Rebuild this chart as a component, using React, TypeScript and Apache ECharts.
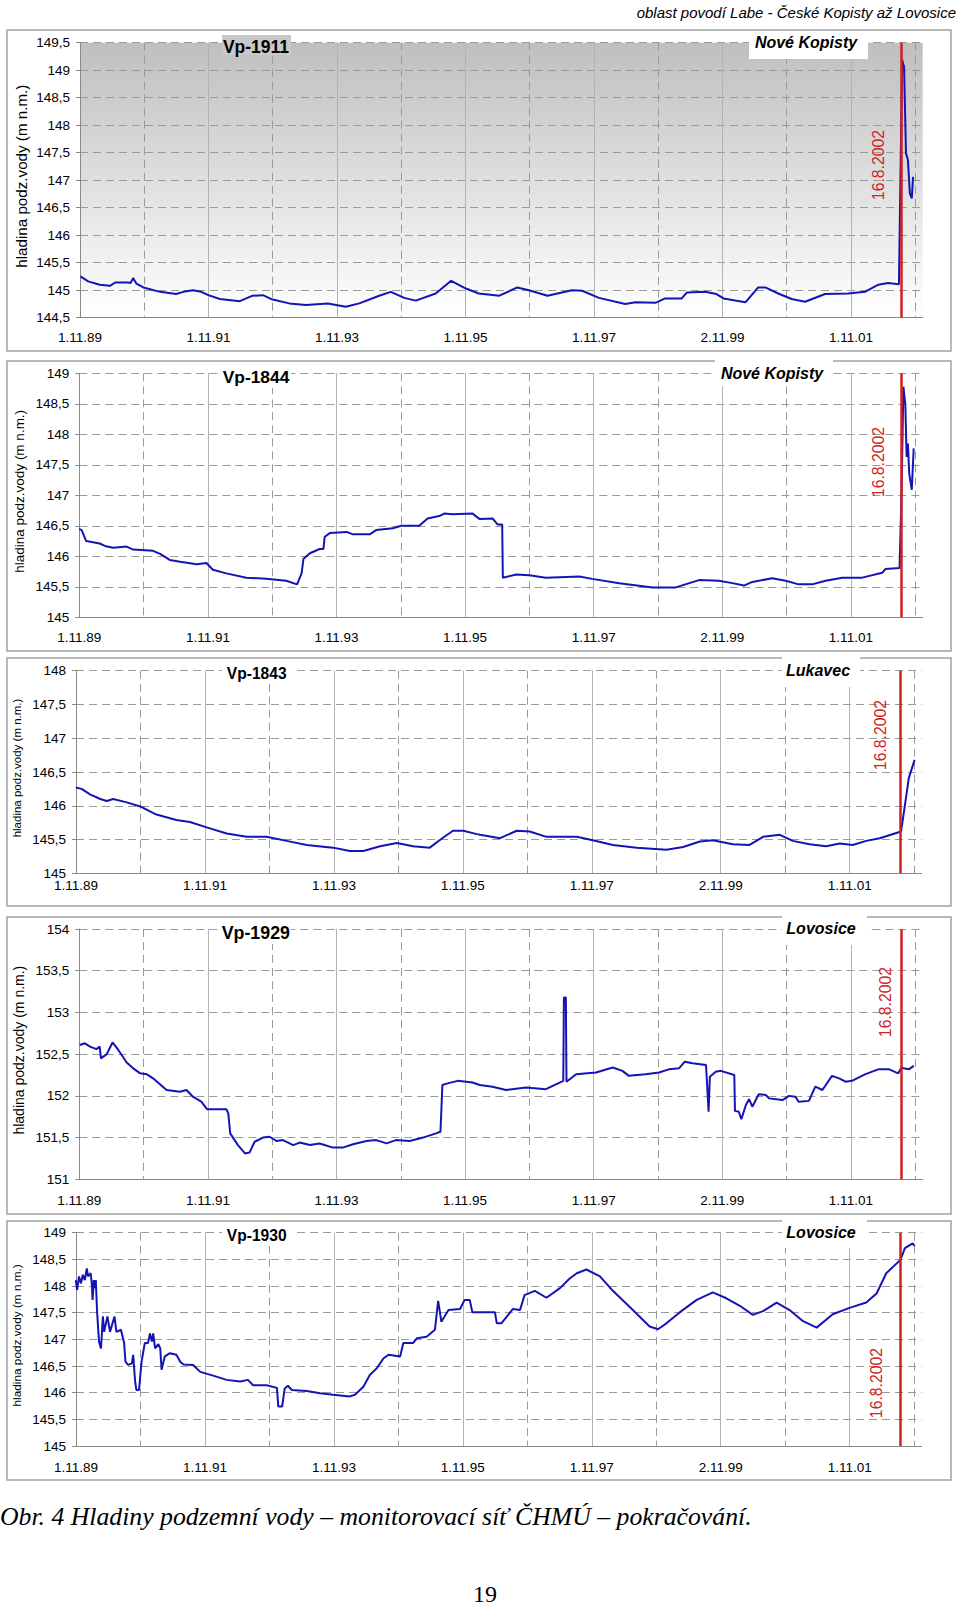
import React, { useEffect, useRef } from 'react';
import * as echarts from 'echarts';

// ---- time frame (decimal years) ----
const START = 1989.833; // 1.11.1989
const END = 2002.95;
const FLOOD = 2002.622; // 16.8.2002
const FLOOD_LABEL = '16.8.2002';
const DATE_LABELS = ['1.11.89', '1.11.91', '1.11.93', '1.11.95', '1.11.97', '2.11.99', '1.11.01'];
const Y_NAME = 'hladina podz.vody (m n.m.)';
const HEADER = 'oblast povodí Labe - České Kopisty až Lovosice';
const CAPTION = 'Obr. 4 Hladiny podzemní vody – monitorovací síť ČHMÚ – pokračování.';
const PAGE_NO = '19';

const WELLS = ['Vp-1911', 'Vp-1844', 'Vp-1843', 'Vp-1929', 'Vp-1930'];
const PLACES = ['Nové Kopisty', 'Nové Kopisty', 'Lukavec', 'Lovosice', 'Lovosice'];
const Y_MIN = [144.5, 145, 145, 151, 145];
const Y_MAX = [149.5, 149, 148, 154, 149];

// ---- series: [decimal year, level m n.m.] ----
const vp1911: [number, number][] = [
  [1989.84, 145.25], [1989.96, 145.16], [1990.14, 145.1], [1990.3, 145.08], [1990.38, 145.14], [1990.58, 145.14],
  [1990.62, 145.13], [1990.66, 145.22], [1990.71, 145.12], [1990.82, 145.05], [1991.08, 144.97], [1991.33, 144.93],
  [1991.44, 144.97], [1991.59, 145.0], [1991.72, 144.97], [1991.83, 144.91], [1992.01, 144.84], [1992.32, 144.8],
  [1992.52, 144.9], [1992.68, 144.91], [1992.83, 144.83], [1993.09, 144.76], [1993.35, 144.73], [1993.69, 144.76],
  [1993.97, 144.7], [1994.18, 144.76], [1994.49, 144.9], [1994.67, 144.97], [1994.88, 144.86], [1995.06, 144.81],
  [1995.37, 144.94], [1995.61, 145.17], [1995.84, 145.03], [1996.04, 144.94], [1996.36, 144.9], [1996.64, 145.05],
  [1996.82, 145.0], [1997.11, 144.9], [1997.49, 145.0], [1997.65, 144.99], [1997.91, 144.86], [1998.32, 144.75],
  [1998.48, 144.78], [1998.79, 144.77], [1998.94, 144.85], [1999.2, 144.85], [1999.28, 144.96], [1999.56, 144.97],
  [1999.74, 144.93], [1999.85, 144.85], [2000.19, 144.78], [2000.39, 145.05], [2000.5, 145.05], [2000.7, 144.94],
  [2000.91, 144.84], [2001.12, 144.79], [2001.43, 144.93], [2001.79, 144.94], [2002.05, 144.97], [2002.26, 145.1],
  [2002.41, 145.13], [2002.58, 145.11], [2002.63, 149.19], [2002.66, 149.06], [2002.69, 147.49], [2002.72, 147.37],
  [2002.75, 146.76], [2002.78, 146.67], [2002.8, 147.06],
];

const vp1844: [number, number][] = [
  [1989.83, 146.45], [1989.87, 146.43], [1989.94, 146.25], [1990.15, 146.21], [1990.23, 146.17], [1990.36, 146.14],
  [1990.57, 146.16], [1990.67, 146.11], [1990.98, 146.09], [1991.09, 146.04], [1991.24, 145.94], [1991.4, 145.91],
  [1991.66, 145.87], [1991.81, 145.89], [1991.91, 145.78], [1992.12, 145.72], [1992.43, 145.65], [1992.74, 145.63],
  [1993.05, 145.6], [1993.22, 145.54], [1993.29, 145.72], [1993.32, 145.96], [1993.42, 146.05], [1993.57, 146.12],
  [1993.63, 146.12], [1993.65, 146.32], [1993.73, 146.38], [1993.99, 146.4], [1994.09, 146.36], [1994.35, 146.36],
  [1994.45, 146.43], [1994.71, 146.46], [1994.84, 146.5], [1995.12, 146.5], [1995.25, 146.62], [1995.43, 146.66],
  [1995.51, 146.7], [1995.64, 146.69], [1995.95, 146.7], [1996.06, 146.61], [1996.26, 146.62], [1996.34, 146.52],
  [1996.41, 146.52], [1996.42, 145.65], [1996.63, 145.7], [1996.83, 145.69], [1997.09, 145.65], [1997.61, 145.67],
  [1997.81, 145.63], [1998.23, 145.56], [1998.75, 145.49], [1999.11, 145.49], [1999.47, 145.61], [1999.78, 145.6],
  [1999.99, 145.56], [2000.17, 145.52], [2000.3, 145.58], [2000.61, 145.64], [2000.82, 145.6], [2001.02, 145.54],
  [2001.23, 145.54], [2001.44, 145.6], [2001.7, 145.65], [2002.01, 145.65], [2002.32, 145.73], [2002.37, 145.79],
  [2002.59, 145.81], [2002.62, 147.0], [2002.65, 148.78], [2002.68, 148.48], [2002.7, 147.63], [2002.72, 147.85],
  [2002.74, 147.36], [2002.78, 147.09], [2002.81, 147.77],
];

const vp1843: [number, number][] = [
  [1989.83, 146.27], [1989.92, 146.25], [1990.05, 146.17], [1990.21, 146.1], [1990.31, 146.07], [1990.41, 146.1],
  [1990.62, 146.05], [1990.83, 145.99], [1991.08, 145.87], [1991.39, 145.79], [1991.6, 145.76], [1991.86, 145.68],
  [1992.17, 145.59], [1992.48, 145.54], [1992.79, 145.54], [1993.1, 145.48], [1993.41, 145.42], [1993.82, 145.38],
  [1994.08, 145.33], [1994.29, 145.33], [1994.55, 145.4], [1994.81, 145.45], [1995.06, 145.4], [1995.32, 145.38],
  [1995.53, 145.53], [1995.68, 145.63], [1995.84, 145.63], [1996.05, 145.58], [1996.1, 145.57], [1996.41, 145.52],
  [1996.67, 145.63], [1996.87, 145.62], [1997.13, 145.54], [1997.6, 145.54], [1997.85, 145.49], [1998.16, 145.42],
  [1998.53, 145.38], [1998.99, 145.35], [1999.25, 145.39], [1999.51, 145.47], [1999.71, 145.49], [2000.02, 145.43],
  [2000.28, 145.42], [2000.49, 145.54], [2000.75, 145.57], [2000.95, 145.48], [2001.21, 145.43], [2001.47, 145.4],
  [2001.68, 145.44], [2001.88, 145.42], [2002.09, 145.48], [2002.3, 145.52], [2002.63, 145.62], [2002.69, 146.01],
  [2002.75, 146.41], [2002.84, 146.68],
];

const vp1929: [number, number][] = [
  [1989.84, 152.61], [1989.92, 152.63], [1990.0, 152.59], [1990.1, 152.56], [1990.15, 152.59], [1990.17, 152.45],
  [1990.26, 152.5], [1990.35, 152.64], [1990.44, 152.55], [1990.57, 152.4], [1990.67, 152.33], [1990.78, 152.27],
  [1990.88, 152.26], [1990.98, 152.21], [1991.19, 152.07], [1991.4, 152.05], [1991.5, 152.07], [1991.6, 151.99],
  [1991.73, 151.93], [1991.82, 151.84], [1992.12, 151.84], [1992.15, 151.79], [1992.18, 151.55], [1992.3, 151.41],
  [1992.41, 151.31], [1992.48, 151.32], [1992.56, 151.45], [1992.69, 151.5], [1992.79, 151.51], [1992.9, 151.46],
  [1993.0, 151.47], [1993.16, 151.41], [1993.26, 151.44], [1993.42, 151.41], [1993.57, 151.43], [1993.78, 151.38],
  [1993.93, 151.38], [1994.09, 151.42], [1994.3, 151.46], [1994.45, 151.47], [1994.61, 151.43], [1994.76, 151.47],
  [1994.97, 151.46], [1995.18, 151.5], [1995.38, 151.55], [1995.45, 151.57], [1995.48, 152.13], [1995.56, 152.15],
  [1995.72, 152.18], [1995.95, 152.16], [1996.06, 152.13], [1996.26, 152.11], [1996.47, 152.07], [1996.78, 152.1],
  [1997.09, 152.08], [1997.36, 152.18], [1997.37, 153.18], [1997.4, 153.18], [1997.41, 152.17], [1997.56, 152.26],
  [1997.87, 152.28], [1998.13, 152.34], [1998.28, 152.3], [1998.38, 152.24], [1998.64, 152.26], [1998.85, 152.28],
  [1999.01, 152.32], [1999.16, 152.33], [1999.25, 152.41], [1999.37, 152.39], [1999.58, 152.37], [1999.62, 151.81],
  [1999.64, 152.23], [1999.73, 152.29], [1999.81, 152.3], [2000.02, 152.25], [2000.03, 151.82], [2000.09, 151.81],
  [2000.13, 151.72], [2000.2, 151.89], [2000.25, 151.96], [2000.3, 151.87], [2000.4, 152.02], [2000.51, 152.01],
  [2000.56, 151.97], [2000.77, 151.95], [2000.87, 152.0], [2000.97, 151.99], [2001.02, 151.93], [2001.18, 151.94],
  [2001.28, 152.11], [2001.39, 152.07], [2001.54, 152.24], [2001.65, 152.21], [2001.75, 152.17], [2001.85, 152.18],
  [2002.06, 152.26], [2002.27, 152.32], [2002.42, 152.32], [2002.57, 152.27], [2002.62, 152.34], [2002.65, 152.33],
  [2002.74, 152.32], [2002.81, 152.36],
];

const vp1930: [number, number][] = [
  [1989.83, 148.11], [1989.85, 147.93], [1989.88, 148.18], [1989.91, 148.05], [1989.94, 148.21], [1989.97, 148.11],
  [1990.0, 148.33], [1990.02, 148.18], [1990.06, 148.24], [1990.08, 148.02], [1990.09, 147.74], [1990.11, 148.11],
  [1990.13, 147.96], [1990.14, 148.11], [1990.16, 147.52], [1990.19, 146.96], [1990.22, 146.83], [1990.25, 147.43],
  [1990.27, 147.14], [1990.32, 147.43], [1990.36, 147.14], [1990.43, 147.43], [1990.46, 147.14], [1990.53, 147.18],
  [1990.58, 146.93], [1990.6, 146.58], [1990.64, 146.52], [1990.7, 146.55], [1990.72, 146.71], [1990.75, 146.21],
  [1990.77, 146.05], [1990.81, 146.05], [1990.85, 146.58], [1990.9, 146.93], [1990.95, 146.93], [1990.98, 147.11],
  [1991.01, 146.96], [1991.03, 147.11], [1991.06, 146.83], [1991.11, 146.91], [1991.14, 146.83], [1991.16, 146.43],
  [1991.19, 146.58], [1991.21, 146.68], [1991.29, 146.74], [1991.39, 146.71], [1991.45, 146.58], [1991.5, 146.53],
  [1991.65, 146.52], [1991.76, 146.39], [1991.96, 146.32], [1992.17, 146.24], [1992.38, 146.21], [1992.5, 146.24],
  [1992.58, 146.14], [1992.79, 146.14], [1992.95, 146.09], [1992.97, 145.74], [1993.03, 145.74], [1993.07, 146.08],
  [1993.12, 146.13], [1993.18, 146.05], [1993.41, 146.03], [1993.62, 145.99], [1993.82, 145.96], [1994.08, 145.93],
  [1994.16, 145.96], [1994.29, 146.11], [1994.39, 146.33], [1994.5, 146.46], [1994.6, 146.64], [1994.68, 146.71],
  [1994.86, 146.68], [1994.91, 146.93], [1995.06, 146.93], [1995.12, 147.02], [1995.27, 147.05], [1995.4, 147.18],
  [1995.45, 147.72], [1995.5, 147.33], [1995.61, 147.55], [1995.79, 147.57], [1995.86, 147.74], [1995.94, 147.74],
  [1995.98, 147.51], [1996.1, 147.51], [1996.33, 147.51], [1996.36, 147.3], [1996.43, 147.3], [1996.61, 147.57],
  [1996.72, 147.55], [1996.79, 147.83], [1996.95, 147.91], [1997.13, 147.78], [1997.34, 147.96], [1997.49, 148.14],
  [1997.6, 148.24], [1997.75, 148.31], [1997.96, 148.18], [1998.16, 147.91], [1998.47, 147.55], [1998.73, 147.24],
  [1998.86, 147.19], [1998.99, 147.3], [1999.2, 147.51], [1999.46, 147.74], [1999.71, 147.88], [1999.92, 147.77],
  [2000.13, 147.63], [2000.33, 147.46], [2000.49, 147.53], [2000.7, 147.69], [2000.9, 147.55], [2001.11, 147.34],
  [2001.32, 147.22], [2001.57, 147.47], [2001.83, 147.59], [2002.09, 147.69], [2002.25, 147.86], [2002.4, 148.24],
  [2002.62, 148.49], [2002.69, 148.71], [2002.81, 148.8], [2002.84, 148.75],
];

const SERIES = [vp1911, vp1844, vp1843, vp1929, vp1930];

// ---- layout (pixels) ----
const LAYOUT = [
  { frame: [7, 30, 944, 321], grid: [80, 42.7, 842.7, 275], xMargin: 13, yNameX: 21.7, yNameSize: 15.2, titleSize: 17.5,
    title: [256, 46.7], titleBox: [222, 35, 69, 20], titleFill: '#c9c9c9', place: [806, 42.7], placeBox: [749, 32, 119, 27], flood: [878, 165] },
  { frame: [7, 361, 944, 290], grid: [79.3, 373.3, 843.4, 244], xMargin: 13.5, yNameX: 19.3, yNameSize: 13.5, titleSize: 17.4,
    title: [256, 377.3], titleBox: [221, 366, 70, 22], titleFill: '#ffffff', place: [772, 373.3], placeBox: [715, 357, 118, 29], flood: [878, 462] },
  { frame: [7, 658, 944, 248], grid: [76, 670.7, 845.7, 202.6], xMargin: 5, yNameX: 16.7, yNameSize: 11.5, titleSize: 15.6,
    title: [256.7, 673.3], titleBox: [222, 662, 70, 22], titleFill: '#ffffff', place: [818, 670], placeBox: [782, 654, 78, 33], flood: [880, 735] },
  { frame: [7, 917, 944, 297], grid: [79.3, 929, 843.4, 250.3], xMargin: 14, yNameX: 19.3, yNameSize: 14, titleSize: 17.8,
    title: [255.8, 933.3], titleBox: [221, 922, 70, 22], titleFill: '#ffffff', place: [821, 928.3], placeBox: [782, 913, 85, 32], flood: [885, 1002] },
  { frame: [7, 1221, 944, 259], grid: [76, 1232.7, 845.7, 213.3], xMargin: 14, yNameX: 17.3, yNameSize: 11.8, titleSize: 15.6,
    title: [256.7, 1235], titleBox: [222, 1224, 70, 22], titleFill: '#ffffff', place: [821, 1232.3], placeBox: [782, 1217, 85, 31], flood: [876.7, 1383] },
];

const SANS = '"Liberation Sans", Arial, sans-serif';
const SERIF = '"Liberation Serif", "Times New Roman", serif';

function txt(x: number, y: number, text: string, o: any, z = 51, rotation = 0) {
  return {
    type: 'text', x, y, rotation, z,
    style: {
      text, fill: o.fill || '#000', fontSize: o.fontSize, fontFamily: o.fontFamily || SANS,
      fontWeight: o.fontWeight || 'normal', fontStyle: o.fontStyle || 'normal',
      align: o.align || 'center', textAlign: o.align || 'center',
      verticalAlign: 'middle', textVerticalAlign: 'middle',
    },
    ...(o.scaleX ? { scaleX: o.scaleX } : {}),
  };
}

export default function App() {
  const ref = useRef<HTMLDivElement>(null);
  useEffect(() => {
    document.body.style.margin = '0';
    const chart = echarts.init(ref.current!, null, { renderer: 'svg' });
    const T = (y: number) => +(y - START).toFixed(4);
    const xMax = +(END - START).toFixed(4);
    const grids: any[] = [];
    const xAxes: any[] = [];
    const yAxes: any[] = [];
    const series: any[] = [];
    const graphics: any[] = [];
    const dash = { color: '#9a9a9a', width: 1, type: [8, 5] };

    SERIES.forEach((data, i) => {
      const L = LAYOUT[i];
      grids.push({
        left: L.grid[0], top: L.grid[1], width: L.grid[2], height: L.grid[3],
        containLabel: false, outerBoundsMode: 'none',
        show: i === 0, borderWidth: 0,
        backgroundColor: i === 0
          ? new echarts.graphic.LinearGradient(0, 0, 0, 1, [
              { offset: 0, color: '#bfbfbf' },
              { offset: 1, color: '#ffffff' },
            ])
          : 'transparent',
      });
      xAxes.push({
        type: 'value', gridIndex: i, min: 0, max: xMax, interval: 1,
        axisLine: { show: true, lineStyle: { color: '#8a8a8a', width: 1 } },
        axisTick: { show: false },
        axisLabel: {
          margin: L.xMargin, fontSize: 13.5, color: '#000', fontFamily: SANS,
          formatter: (v: number) => {
            const k = Math.round(v);
            if (Math.abs(v - k) < 1e-6 && k % 2 === 0 && k / 2 < DATE_LABELS.length) return DATE_LABELS[k / 2];
            return '';
          },
        },
        splitLine: { show: true, showMaxLine: false, showMinLine: false, lineStyle: dash },
      });
      xAxes.push({
        type: 'value', gridIndex: i, min: 0, max: xMax, interval: 2,
        axisLine: { show: false }, axisTick: { show: false }, axisLabel: { show: false },
        splitLine: { show: true, showMaxLine: false, showMinLine: false, lineStyle: { color: '#b2b2b2', width: 1, type: 'solid' } },
      });
      yAxes.push({
        type: 'value', gridIndex: i, min: Y_MIN[i], max: Y_MAX[i], interval: 0.5,
        axisLine: { show: true, lineStyle: { color: '#8a8a8a', width: 1 } },
        axisTick: { show: true, length: 4, lineStyle: { color: '#8a8a8a' } },
        axisLabel: {
          margin: 10, fontSize: 13.5, color: '#000', fontFamily: SANS,
          formatter: (v: number) => String(v).replace('.', ','),
        },
        splitLine: { show: true, showMinLine: false, lineStyle: dash },
      });
      series.push({
        type: 'line', name: WELLS[i], xAxisIndex: 2 * i, yAxisIndex: i,
        data: data.map(([yr, v]) => [T(yr), v]),
        showSymbol: false, symbol: 'none', z: 3,
        lineStyle: { color: '#1414b4', width: 2 },
        markLine: {
          silent: true, symbol: 'none', label: { show: false },
          lineStyle: { color: '#d02020', width: 2.5, type: 'solid' },
          data: [{ xAxis: T(FLOOD) }],
        },
      });

      // frame
      graphics.push({
        type: 'rect', z: 49,
        shape: { x: L.frame[0], y: L.frame[1], width: L.frame[2], height: L.frame[3] },
        style: { fill: 'none', stroke: '#a3a3a3', lineWidth: 1.5 },
      });
      // title box + title
      graphics.push({
        type: 'rect', z: 50,
        shape: { x: L.titleBox[0], y: L.titleBox[1], width: L.titleBox[2], height: L.titleBox[3] },
        style: { fill: L.titleFill },
      });
      graphics.push(txt(L.title[0], L.title[1], WELLS[i], { fontSize: L.titleSize, fontWeight: 'bold' }));
      // place box + place
      graphics.push({
        type: 'rect', z: 50,
        shape: { x: L.placeBox[0], y: L.placeBox[1], width: L.placeBox[2], height: L.placeBox[3] },
        style: { fill: '#ffffff' },
      });
      graphics.push(txt(L.place[0], L.place[1], PLACES[i], { fontSize: 16, fontWeight: 'bold', fontStyle: 'italic' }));
      // y-axis name
      graphics.push(txt(L.yNameX, L.grid[1] + L.grid[3] / 2 - 4, Y_NAME, { fontSize: L.yNameSize }, 51, Math.PI / 2));
      // flood label
      graphics.push(txt(L.flood[0], L.flood[1], FLOOD_LABEL, { fontSize: 15.8, fill: '#d02424' }, 51, Math.PI / 2));
    });

    graphics.push(txt(956, 12.7, HEADER, { fontSize: 15, fontStyle: 'italic', align: 'right' }));
    graphics.push(txt(0, 1516, CAPTION, { fontSize: 26, fontStyle: 'italic', fontFamily: SERIF, align: 'left', scaleX: 0.99 }));
    graphics.push(txt(485, 1594, PAGE_NO, { fontSize: 24, fontFamily: SERIF }));

    chart.setOption({
      animation: false,
      backgroundColor: '#ffffff',
      textStyle: { fontFamily: SANS },
      grid: grids,
      xAxis: xAxes,
      yAxis: yAxes,
      series,
      graphic: { elements: graphics },
    });
    return () => chart.dispose();
  }, []);
  return <div ref={ref} style={{ width: 960, height: 1608 }} />;
}
